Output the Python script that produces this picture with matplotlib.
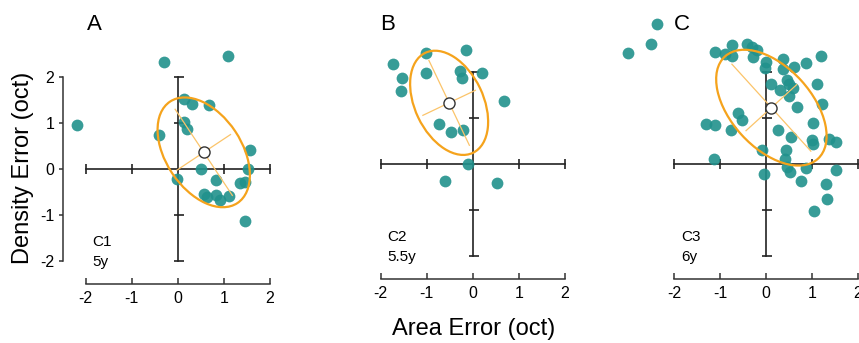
import numpy as np
import matplotlib
matplotlib.use("Agg")
import matplotlib.pyplot as plt
import matplotlib.transforms as mtransforms
from matplotlib.patches import Ellipse

plt.rcParams['font.family'] = ['Liberation Sans', 'DejaVu Sans']

# area error (x) and density error (y), in octaves, one point per trial
c1_area = [-2.19, -0.30, 1.09, 0.13, 0.31, 0.68, 0.13, 0.20, -0.40, 1.58, 0.51,
           1.52, -0.02, 0.84, 1.36, 1.46, 0.58, 0.64, 0.84, 0.91, 1.11, 1.47]
c1_density = [0.95, 2.33, 2.45, 1.52, 1.41, 1.39, 1.03, 0.88, 0.75, 0.41, 0.00,
              0.00, -0.22, -0.24, -0.31, -0.28, -0.55, -0.60, -0.57, -0.67, -0.59, -1.12]

c2_area = [-1.74, -1.02, -0.14, -1.53, -1.01, -0.27, -0.23, 0.21,
           -1.56, 0.69, -0.73, -0.47, -0.22, -0.11, -0.60, 0.53]
c2_density = [2.17, 2.42, 2.48, 1.88, 1.97, 2.02, 1.88, 1.97,
              1.59, 1.38, 0.87, 0.70, 0.75, 0.00, -0.38, -0.42]

c3_area = [-2.38, -2.50, -3.00, -1.11, -0.75, -0.74, -0.90, -0.42, -0.31, -0.19,
           -0.28, 0.00, -0.02, 0.37, 0.36, 0.61, 0.88, 1.19, 0.10, 0.46,
           0.50, 0.59, 0.30, 0.49, 1.10, 1.22, 0.67, -0.60, -0.53, -1.31,
           -1.11, -0.76, 0.26, 1.02, 0.54, 1.01, 1.36, 1.53, 1.02, -0.08,
           0.43, -1.12, 0.41, 0.46, 0.52, 0.87, 1.52, -0.04, 0.77, 1.31,
           1.33, 1.04]
c3_density = [3.05, 2.61, 2.42, 2.43, 2.58, 2.34, 2.39, 2.60, 2.54, 2.48,
              2.32, 2.21, 2.08, 2.29, 2.07, 2.11, 2.20, 2.34, 1.75, 1.82,
              1.75, 1.66, 1.60, 1.48, 1.75, 1.31, 1.24, 1.10, 0.95, 0.88,
              0.84, 0.75, 0.74, 0.89, 0.58, 0.52, 0.54, 0.48, 0.43, 0.30,
              0.30, 0.11, 0.10, -0.06, -0.18, -0.08, -0.12, -0.22, -0.36, -0.43,
              -0.76, -1.03]

panel_letters = ['A', 'B', 'C']
child_names = ['C1', 'C2', 'C3']
child_ages = ['5y', '5.5y', '6y']
axis_ticks = [-2, -1, 0, 1, 2]

TEAL = '#21918c'
ORANGE = '#f5a31c'
ORANGE_LIGHT = '#fbc46a'
INK = '#222222'

W, H = 859, 343
PX = 46.0          # pixels per octave
XLIM = (-2.5, 2.05)
YLIM = (-2.5, 2.6)


def make_axes(fig, left_px, bottom_px):
    w = (XLIM[1] - XLIM[0]) * PX
    h = (YLIM[1] - YLIM[0]) * PX
    ax = fig.add_axes([left_px / W, (H - bottom_px) / H, w / W, h / H])
    ax.set_xlim(*XLIM)
    ax.set_ylim(*YLIM)
    ax.patch.set_visible(False)
    for s in ['top', 'right']:
        ax.spines[s].set_visible(False)
    ax.spines['bottom'].set_bounds(-2, 2)
    ax.spines['bottom'].set_color('#333333')
    ax.spines['bottom'].set_linewidth(1.1)
    ax.set_xticks(axis_ticks)
    ax.set_xticklabels([str(t) for t in axis_ticks])
    ax.tick_params(axis='x', direction='in', length=4, width=1.1,
                   color='#333333', labelsize=11.5, pad=5)
    return ax


def draw_cross(fig, ax):
    ax.plot([-2, 2], [0, 0], color=INK, lw=1.2, zorder=1)
    ax.plot([0, 0], [-2, 2], color=INK, lw=1.2, zorder=1)
    tt = [t for t in axis_ticks if t != 0]
    ax.plot(tt, [0] * len(tt), ls='none', marker='|', ms=6.5, mew=1.2,
            color=INK, zorder=1)
    shifted = mtransforms.offset_copy(ax.transData, fig=fig, x=1.0, y=0,
                                      units='points')
    ax.plot([0] * len(tt), tt, ls='none', marker='_', ms=7.5, mew=1.2,
            color=INK, zorder=1, transform=shifted)


def draw_spread(ax, x, y):
    x = np.asarray(x)
    y = np.asarray(y)
    mx, my = x.mean(), y.mean()
    vals, vecs = np.linalg.eigh(np.cov(x, y))
    k = np.sqrt(2 * np.log(2))   # 50% region
    angle = np.degrees(np.arctan2(vecs[1, 1], vecs[0, 1]))
    ell = Ellipse((mx, my), 2 * k * np.sqrt(vals[1]), 2 * k * np.sqrt(vals[0]),
                  angle=angle, fill=False, ec=ORANGE, lw=1.6, zorder=4)
    ax.add_patch(ell)
    for i in range(2):
        d = vecs[:, i] * np.sqrt(vals[i])
        ax.plot([mx - d[0], mx + d[0]], [my - d[1], my + d[1]],
                color=ORANGE_LIGHT, lw=0.9, zorder=4)
    ax.plot(mx, my, 'o', mfc='white', mec='#333333', ms=8, mew=1.0, zorder=6)


fig = plt.figure(figsize=(W / 100, H / 100), dpi=100)

data = [(c1_area, c1_density), (c2_area, c2_density), (c3_area, c3_density)]
origins = [(85.7, 284), (380.7, 279), (674.0, 279)]   # px of x=-2 and of the bottom spine

for i, ((xs, ys), (x_px, b_px)) in enumerate(zip(data, origins)):
    ax = make_axes(fig, x_px - 0.5 * PX, b_px)
    draw_cross(fig, ax)
    ax.scatter(xs, ys, s=72, color=TEAL, alpha=0.9, linewidths=0,
               zorder=3, clip_on=False)
    draw_spread(ax, xs, ys)
    ax.text(-1.85, -1.58, child_names[i], fontsize=11, ha='left', va='center')
    ax.text(-1.85, -2.03, child_ages[i], fontsize=11, ha='left', va='center')

    if i == 0:
        ax.spines['left'].set_bounds(-2, 2)
        ax.spines['left'].set_color('#333333')
        ax.spines['left'].set_linewidth(1.1)
        ax.set_yticks(axis_ticks)
        ax.set_yticklabels([str(t) for t in axis_ticks])
        ax.tick_params(axis='y', direction='out', length=3, width=1.1,
                       color='#333333', labelsize=11.5, pad=3)
    else:
        ax.spines['left'].set_visible(False)
        ax.set_yticks([])

letter_px = [(94, 24), (388, 25), (682, 25)]
for letter, (lx, ly) in zip(panel_letters, letter_px):
    fig.text(lx / W, 1 - ly / H, letter, fontsize=16, ha='center', va='center')

fig.text(23 / W, 1 - 168 / H, 'Density Error (oct)', fontsize=17,
         rotation=90, ha='center', va='center')
fig.text(474 / W, 1 - 329 / H, 'Area Error (oct)', fontsize=17,
         ha='center', va='center')

fig.savefig('out.png', dpi=100)
